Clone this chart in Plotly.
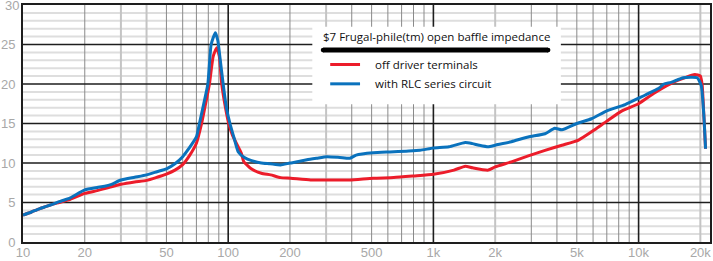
import plotly.graph_objects as go
import numpy as np

# ---------------- data ----------------
freq_rlc = [10, 11, 12, 13, 14, 15, 17, 20, 23, 25, 27, 30, 35, 40, 45, 50, 55, 60, 65, 70,
            72.4, 76, 79.6, 82.6, 86.6, 89, 91.5, 94.5, 98, 102, 107, 112, 120, 130, 145, 160,
            180, 200, 217, 242, 270, 303, 350, 392, 420, 509, 614, 737, 860, 1000, 1190, 1430,
            1550, 1670, 1850, 2000, 2400, 2900, 3500, 3900, 4230, 5000, 5900, 7000, 8600,
            10000, 12600, 13300, 14400, 16500, 19300, 20200, 20800, 21200]
z_rlc = [3.4, 3.8, 4.2, 4.5, 4.8, 5.1, 5.6, 6.6, 6.9, 7.05, 7.3, 7.85, 8.2, 8.5, 8.9, 9.25, 9.9, 10.8, 12.0, 13.3,
         15.0, 17.5, 20.0, 25.0, 26.5, 25.5, 23.0, 20.0, 17.0, 15.0, 13.1, 11.4, 10.7, 10.3, 10.0, 9.9,
         9.75, 10.0, 10.15, 10.4, 10.6, 10.8, 10.7, 10.6, 11.0, 11.3, 11.4, 11.5, 11.6, 11.9, 12.05, 12.6,
         12.45, 12.25, 12.05, 12.25, 12.7, 13.3, 13.7, 14.4, 14.2, 15.0, 15.6, 16.6, 17.4,
         18.2, 19.5, 20.0, 20.2, 20.8, 20.8, 19.8, 16.0, 11.8]

freq_drv = [10, 11, 12, 13, 14, 15, 17, 20, 23, 25, 27, 30, 35, 40, 45, 50, 55, 60, 65, 70,
            74.2, 78, 81, 84.5, 88, 90.5, 93, 97, 100.6, 105, 112, 116, 119, 124, 129, 145, 161,
            180, 202, 252, 326, 392, 509, 641, 799, 1000, 1260, 1430, 1550, 1850, 2000, 2400,
            2900, 3500, 4230, 5100, 6100, 7000, 8300, 10000, 12000, 15000, 18800, 20000, 20400,
            20800, 21200]
z_drv = [3.4, 3.8, 4.2, 4.5, 4.8, 5.0, 5.4, 6.15, 6.5, 6.75, 7.0, 7.3, 7.6, 7.8, 8.2, 8.6, 9.1, 9.8, 11.0, 12.5,
         15.0, 17.8, 20.0, 23.5, 24.6, 23.5, 20.0, 17.0, 15.0, 13.5, 12.0, 11.2, 10.2, 9.7, 9.3, 8.7, 8.5,
         8.15, 8.07, 7.85, 7.85, 7.85, 8.07, 8.15, 8.35, 8.57, 9.1, 9.6, 9.4, 9.1, 9.5, 10.15,
         10.9, 11.6, 12.25, 12.9, 14.2, 15.3, 16.6, 17.5, 18.9, 20.3, 21.2, 21.0, 19.9,
         16.0, 11.8]

name_drv = "off driver terminals"
name_rlc = "with RLC series circuit"
chart_title = "$7 Frugal-phile(tm) open baffle impedance"

x_tickvals = [10, 20, 50, 100, 200, 500, 1000, 2000, 5000, 10000, 20000]
x_ticktext = ["10", "20", "50", "100", "200", "500", "1k", "2k", "5k", "10k", "20k"]
y_tickvals = [0, 5, 10, 15, 20, 25]
y_top_label = 30

# ---------------- layout geometry ----------------
W, H = 713, 261
ML, MR, MT, MB = 21, 1, 5, 17
PW, PH = W - ML - MR, H - MT - MB
XMIN, XMAX = 1.0, 4.348  # log10 range
YMIN, YMAX = 0, 30

RED = "#ec1c2a"
BLUE = "#0a72bd"


def xp(px):
    return (px - ML) / PW


def yp(py):
    return (H - MB - py) / PH


def xd(f):
    return (np.log10(f) - XMIN) / (XMAX - XMIN)


def yd(v):
    return (v - YMIN) / (YMAX - YMIN)


fig = go.Figure()
fig.add_trace(go.Scatter(x=freq_drv, y=z_drv, mode="lines", name=name_drv,
                         line=dict(color=RED, width=3, shape="spline", smoothing=0.5)))
fig.add_trace(go.Scatter(x=freq_rlc, y=z_rlc, mode="lines", name=name_rlc,
                         line=dict(color=BLUE, width=3, shape="spline", smoothing=0.5)))

shapes = []
# minor horizontal grid (every ohm)
for v in range(1, 30):
    if v % 5:
        shapes.append(dict(type="line", xref="paper", yref="paper", x0=0, x1=1,
                           y0=yd(v), y1=yd(v), line=dict(color="#dedede", width=2), layer="below"))
# minor vertical grid
light = {30, 40, 300, 2000, 20000}
for dec in [10, 100, 1000, 10000]:
    for m in range(2, 10):
        f = dec * m
        if np.log10(f) > XMAX:
            continue
        if f in light:
            ln = dict(color="#c4c4c4", width=2)
        else:
            ln = dict(color="#8a8a8a", width=1)
        shapes.append(dict(type="line", xref="paper", yref="paper", x0=xd(f), x1=xd(f),
                           y0=0, y1=1, line=ln, layer="below"))
# major horizontal
for v in [5, 10, 15, 20, 25]:
    shapes.append(dict(type="line", xref="paper", yref="paper", x0=0, x1=1,
                       y0=yd(v), y1=yd(v), line=dict(color="#1e1e1e", width=1.6), layer="below"))
# major vertical
for f in [100, 1000, 10000]:
    shapes.append(dict(type="line", xref="paper", yref="paper", x0=xd(f), x1=xd(f),
                       y0=0, y1=1, line=dict(color="#1e1e1e", width=1.6), layer="below"))

# legend box
shapes.append(dict(type="rect", xref="paper", yref="paper", x0=xp(312), x1=xp(562),
                   y0=yp(105), y1=yp(27), fillcolor="white", line=dict(width=0), layer="below"))
shapes.append(dict(type="line", xref="paper", yref="paper", x0=xp(323), x1=xp(549),
                   y0=yp(50.5), y1=yp(50.5), line=dict(color="black", width=5), layer="above"))
shapes.append(dict(type="circle", xref="paper", yref="paper", x0=xp(320.5), x1=xp(325.5),
                   y0=yp(53), y1=yp(48), fillcolor="black", line=dict(width=0), layer="above"))
shapes.append(dict(type="circle", xref="paper", yref="paper", x0=xp(546.5), x1=xp(551.5),
                   y0=yp(53), y1=yp(48), fillcolor="black", line=dict(width=0), layer="above"))
shapes.append(dict(type="line", xref="paper", yref="paper", x0=xp(330), x1=xp(360),
                   y0=yp(65), y1=yp(65), line=dict(color=RED, width=3), layer="above"))
shapes.append(dict(type="line", xref="paper", yref="paper", x0=xp(330), x1=xp(360),
                   y0=yp(84.5), y1=yp(84.5), line=dict(color=BLUE, width=3), layer="above"))

LFONT = dict(family="Open Sans", size=11.5, color="#111111")
TFONT = dict(family="Liberation Sans", size=13, color="#a8a8a8")
annotations = [
    dict(text=chart_title, xref="paper", yref="paper", x=xp(321), y=yp(36.5),
         xanchor="left", yanchor="middle", showarrow=False, font=LFONT),
    dict(text=name_drv, xref="paper", yref="paper", x=xp(373), y=yp(65),
         xanchor="left", yanchor="middle", showarrow=False, font=LFONT),
    dict(text=name_rlc, xref="paper", yref="paper", x=xp(373), y=yp(84),
         xanchor="left", yanchor="middle", showarrow=False, font=LFONT),
    dict(text=str(y_top_label), xref="paper", yref="y", x=xp(17.5), y=y_top_label,
         xanchor="right", yanchor="middle", showarrow=False, font=TFONT, borderpad=0),
]

fig.update_layout(
    width=W, height=H, margin=dict(l=ML, r=MR, t=MT, b=MB, pad=0),
    paper_bgcolor="white", plot_bgcolor="rgba(0,0,0,0)", showlegend=False,
    shapes=shapes, annotations=annotations,
    xaxis=dict(type="log", range=[XMIN, XMAX], tickvals=x_tickvals, ticktext=x_ticktext,
               showgrid=False, zeroline=False, showline=True, mirror=True,
               linecolor="#1e1e1e", linewidth=2, ticks="", tickfont=TFONT, ticklabelstandoff=-3),
    yaxis=dict(range=[YMIN, YMAX], tickvals=y_tickvals, showgrid=False, zeroline=False,
               showline=True, mirror=True, linecolor="#1e1e1e", linewidth=2, ticks="",
               tickfont=TFONT, ticklabelstandoff=3),
)

fig.write_html("out.html")
